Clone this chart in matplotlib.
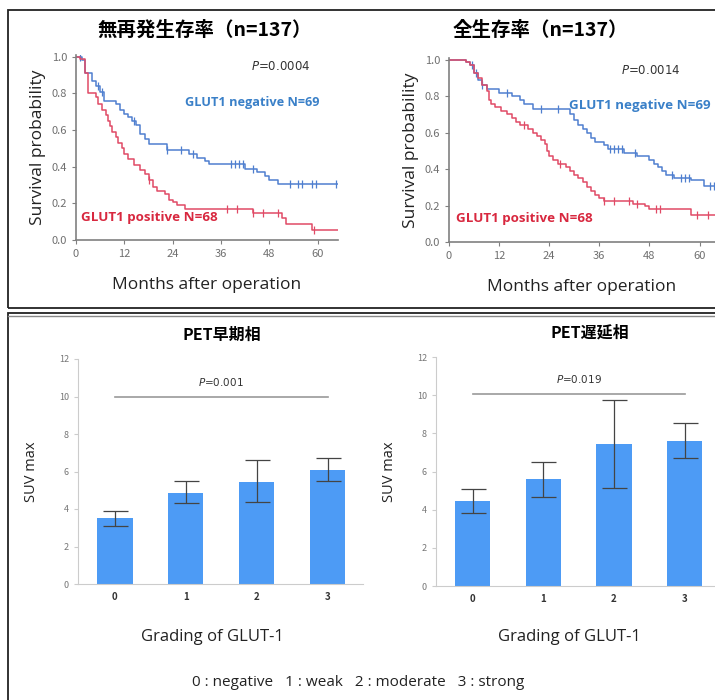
import numpy as np
import matplotlib.pyplot as plt
from matplotlib.patches import Rectangle
from matplotlib.lines import Line2D

plt.rcParams['font.family'] = ['Noto Sans CJK JP', 'DejaVu Sans']

# ---- Kaplan-Meier data ----
# 無再発生存率
rfs_neg_t = [0, 1.5, 2.2, 4, 5, 6, 7, 10, 11, 12, 13, 14, 15, 16, 17, 18, 22.5, 28, 30, 32, 33, 42, 45, 47, 48, 50, 65]
rfs_neg_s = [1.0, 0.98, 0.91, 0.87, 0.84, 0.81, 0.76, 0.74, 0.71, 0.69, 0.67, 0.65, 0.63, 0.58, 0.55, 0.526, 0.49, 0.47, 0.45, 0.43, 0.414, 0.39, 0.37, 0.35, 0.33, 0.307, 0.307]
rfs_neg_c = [1, 5.5, 6.5, 14.5, 22.5, 26, 29, 38.5, 39.5, 40.5, 41.5, 44, 53, 55, 56, 58.5, 59.5, 64.5]
rfs_pos_t = [0, 1, 2.2, 3, 5, 5.5, 6.5, 7.5, 8, 8.5, 9, 10, 10.5, 11.5, 12, 13, 14.5, 16, 17, 18, 19, 20, 22, 23, 24, 25, 27, 44, 51, 52, 58.5, 65]
rfs_pos_s = [1.0, 0.99, 0.91, 0.80, 0.78, 0.74, 0.71, 0.68, 0.65, 0.62, 0.59, 0.56, 0.53, 0.50, 0.47, 0.44, 0.41, 0.38, 0.36, 0.33, 0.29, 0.27, 0.25, 0.22, 0.21, 0.19, 0.168, 0.15, 0.12, 0.09, 0.055, 0.055]
rfs_pos_c = [18, 37.5, 40, 44, 46.5, 50, 59]

# 全生存率
os_neg_t = [0, 4, 5, 6, 7, 8, 9, 12, 15, 17, 18, 20, 29, 30, 31, 32, 33, 34, 35, 37, 38, 42, 45, 48, 49, 50, 51, 52, 54, 58, 61, 64]
os_neg_s = [1.0, 0.99, 0.97, 0.93, 0.89, 0.86, 0.84, 0.82, 0.80, 0.78, 0.76, 0.73, 0.70, 0.67, 0.64, 0.62, 0.60, 0.57, 0.55, 0.53, 0.51, 0.49, 0.47, 0.45, 0.43, 0.41, 0.39, 0.37, 0.35, 0.34, 0.31, 0.31]
os_neg_c = [5.5, 6.5, 8, 14, 22, 26, 38.5, 39.5, 40.5, 41.5, 44.5, 53.5, 55.5, 56.5, 57.5, 62.5, 63.5]
os_pos_t = [0, 4, 5, 6, 7, 8, 9, 9.5, 10, 11, 12.5, 14, 15, 16, 17, 19, 20, 21, 22, 23, 23.5, 24, 25, 26, 28, 29, 30, 31, 32, 33, 34, 35, 36, 37, 44, 47, 48, 58, 64]
os_pos_s = [1.0, 0.99, 0.97, 0.93, 0.90, 0.86, 0.83, 0.78, 0.76, 0.74, 0.72, 0.70, 0.68, 0.66, 0.64, 0.62, 0.60, 0.58, 0.56, 0.54, 0.50, 0.47, 0.45, 0.43, 0.41, 0.39, 0.37, 0.35, 0.33, 0.30, 0.28, 0.26, 0.24, 0.225, 0.21, 0.20, 0.18, 0.15, 0.15]
os_pos_c = [18, 26.5, 37, 39.5, 43, 45, 49.5, 50.5, 59.5, 62]

# ---- SUV max bar data ----
grades = ['0', '1', '2', '3']
early_mean = [3.5, 4.85, 5.45, 6.1]
early_lo = [3.1, 4.3, 4.35, 5.5]
early_hi = [3.9, 5.5, 6.6, 6.7]
late_mean = [4.45, 5.6, 7.45, 7.6]
late_lo = [3.8, 4.65, 5.15, 6.7]
late_hi = [5.1, 6.5, 9.75, 8.55]

BLUE = '#4f7fcf'
RED = '#e04a66'
BLUE_TXT = '#3a80c8'
RED_TXT = '#d8283f'
BAR = '#4d9bf5'
GRAY = '#808080'

W, H = 715, 700
fig = plt.figure(figsize=(7.15, 7.0), dpi=100)


def fx(px):
    return px / W


def fy(py):
    return 1 - py / H


def km_axes(left, right, top, bottom, xmax):
    ax = fig.add_axes([fx(left), fy(bottom), fx(right - left), (bottom - top) / H])
    ax.set_xlim(0, xmax)
    ax.set_ylim(0, 1.01)
    ax.set_xticks([0, 12, 24, 36, 48, 60])
    ax.set_yticks([0, 0.2, 0.4, 0.6, 0.8, 1.0])
    ax.set_yticklabels(['0.0', '0.2', '0.4', '0.6', '0.8', '1.0'])
    for s in ['top', 'right']:
        ax.spines[s].set_visible(False)
    for s in ['left', 'bottom']:
        ax.spines[s].set_color(GRAY)
        ax.spines[s].set_linewidth(1.2)
    ax.tick_params(colors=GRAY, labelsize=8, length=3, labelcolor='#707070')
    ax.set_xlabel('Months after operation', fontsize=12.5, family='Open Sans', color='#222222', labelpad=13)
    ax.set_ylabel('Survival probability', fontsize=12.5, family='Open Sans', color='#222222', labelpad=4)
    return ax


def km_curve(ax, t, s, c, color):
    ax.step(t, s, where='post', color=color, lw=1.1)
    idx = np.searchsorted(t, c, side='right') - 1
    cs = np.array(s)[idx]
    ax.plot(c, cs, ls='none', marker='|', ms=6, mew=0.9, color=color)


ax1 = km_axes(76, 338, 55, 240, 65)
km_curve(ax1, rfs_neg_t, rfs_neg_s, rfs_neg_c, BLUE)
km_curve(ax1, rfs_pos_t, rfs_pos_s, rfs_pos_c, RED)
ax1.text(0.78, 0.94, '$\\it{P}$=0.0004', transform=ax1.transAxes, ha='center', va='center', fontsize=8.5, family='DejaVu Sans', color='#333333')
ax1.text(0.93, 0.745, 'GLUT1 negative N=69', transform=ax1.transAxes, ha='right', va='center', fontsize=9.2, family='Open Sans', weight='bold', color=BLUE_TXT)
ax1.text(0.02, 0.12, 'GLUT1 positive N=68', transform=ax1.transAxes, ha='left', va='center', fontsize=9.6, family='Open Sans', weight='bold', color=RED_TXT)

ax2 = km_axes(449, 715, 58, 242, 63.7)
km_curve(ax2, os_neg_t, os_neg_s, os_neg_c, BLUE)
km_curve(ax2, os_pos_t, os_pos_s, os_pos_c, RED)
ax2.text(0.76, 0.93, '$\\it{P}$=0.0014', transform=ax2.transAxes, ha='center', va='center', fontsize=8.5, family='DejaVu Sans', color='#333333')
ax2.text(0.985, 0.74, 'GLUT1 negative N=69', transform=ax2.transAxes, ha='right', va='center', fontsize=9.6, family='Open Sans', weight='bold', color=BLUE_TXT)
ax2.text(0.025, 0.125, 'GLUT1 positive N=68', transform=ax2.transAxes, ha='left', va='center', fontsize=9.6, family='Open Sans', weight='bold', color=RED_TXT)

fig.text(fx(205), fy(30), '無再発生存率（n=137）', ha='center', va='center', fontsize=14, weight='bold')
fig.text(fx(540), fy(30), '全生存率（n=137）', ha='center', va='center', fontsize=14, weight='bold')


def bar_axes(left, right, top, bottom, mean, lo, hi, ptext, pline, title, tx, xmax, lx):
    ax = fig.add_axes([fx(left), fy(bottom), fx(right - left), (bottom - top) / H])
    x = np.arange(len(grades))
    err = [np.array(mean) - np.array(lo), np.array(hi) - np.array(mean)]
    ax.bar(x, mean, width=0.5, color=BAR, yerr=err, capsize=9,
           error_kw=dict(ecolor='#444444', elinewidth=0.9, capthick=0.9))
    ax.set_xlim(-0.52, xmax)
    ax.set_ylim(0, 12)
    ax.set_yticks(range(0, 13, 2))
    ax.set_xticks(x)
    ax.set_xticklabels(grades, fontsize=7, weight='bold', color='#333333')
    for s in ['top', 'right']:
        ax.spines[s].set_visible(False)
    ax.spines['left'].set_color('#cccccc')
    ax.spines['bottom'].set_color('#cccccc')
    ax.tick_params(axis='y', labelsize=6.5, labelcolor='#777777', color='#cccccc', length=3)
    ax.tick_params(axis='x', length=0, pad=6)
    ax.plot([0, 3], [pline, pline], color='#999999', lw=1.2)
    ax.text(1.5, pline + 0.8, ptext, ha='center', va='center', fontsize=7.5, family='DejaVu Sans', color='#333333')
    ax.set_ylabel('SUV max', fontsize=10.5, family='Open Sans', color='#222222', labelpad=14)
    fig.text(fx(lx), fy(637), 'Grading of GLUT-1', ha='center', va='center', fontsize=12,
             family='Open Sans', color='#222222')
    fig.text(fx(tx), fy(top - 24), title, ha='center', va='center', fontsize=11.5, weight='bold')
    return ax


b1 = bar_axes(78, 363, 359, 584, early_mean, early_lo, early_hi, '$\\it{P}$=0.001', 10.0, 'PET早期相', 222, 3.5, 212)
b2 = bar_axes(436, 715, 357, 586, late_mean, late_lo, late_hi, '$\\it{P}$=0.019', 10.05, 'PET遅延相', 590, 3.43, 569)

fig.text(fx(358), fy(683), '0 : negative   1 : weak   2 : moderate   3 : strong',
         ha='center', va='center', fontsize=11, family='Open Sans', color='#222222')

# panel borders
fig.patches.append(Rectangle((fx(8), fy(308)), fx(720 - 8), (308 - 10) / H, transform=fig.transFigure,
                             fill=False, edgecolor='#222222', lw=1.3))
fig.patches.append(Rectangle((fx(8), fy(705)), fx(720 - 8), (705 - 313) / H, transform=fig.transFigure,
                             fill=False, edgecolor='#222222', lw=1.3))
fig.lines.append(Line2D([fx(8), 1], [fy(316), fy(316)], transform=fig.transFigure, color='#888888', lw=1.0))

fig.savefig('out.png', dpi=100)
